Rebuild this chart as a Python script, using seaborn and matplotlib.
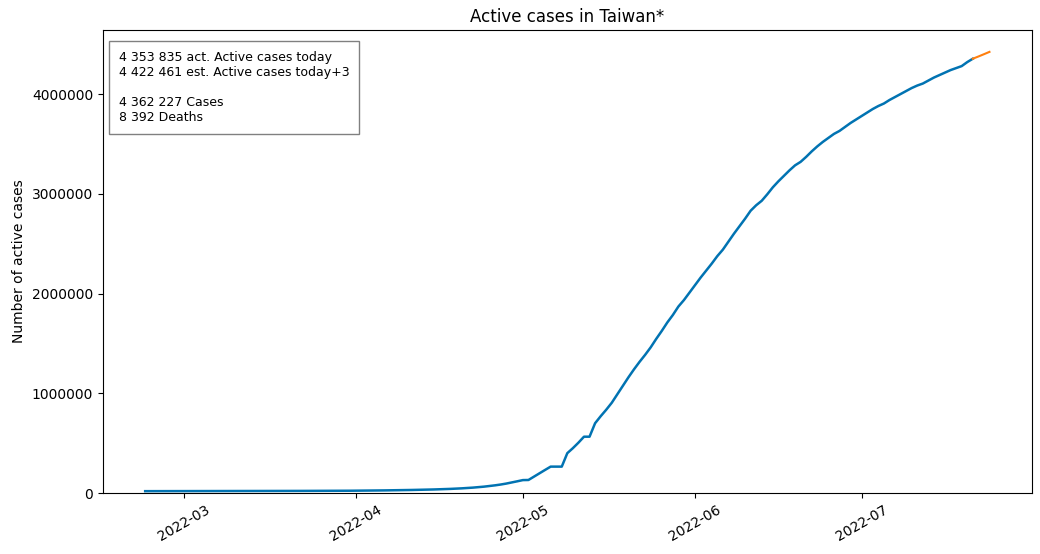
import pandas as pd
import matplotlib
matplotlib.use("Agg")
import matplotlib.pyplot as plt
import seaborn as sns

# active cases per day, 2022-02-22 .. 2022-07-21
start_date = "2022-02-22"
active_feb = [19000, 19050, 19100, 19150, 19200, 19250, 19300]
active_mar = [19400, 19500, 19600, 19700, 19800, 19900, 20000, 20100, 20200, 20300,
              20400, 20500, 20600, 20700, 20800, 20900, 21000, 21100, 21200, 21300,
              21400, 21500, 21600, 21700, 21900, 22100, 22300, 22500, 22800, 23100, 23400]
active_apr = [23800, 24300, 24800, 25400, 26000, 26700, 27400, 28200, 29100, 30000,
              31000, 32100, 33300, 34600, 36100, 37800, 39700, 41900, 44400, 47300,
              50600, 54500, 59000, 64300, 70500, 77500, 85500, 95000, 106000, 118000]
active_may = [130000, 131000, 165000, 200000, 232000, 265000, 265000, 265000, 400000, 450000,
              505000, 565000, 565000, 700000, 770000, 835000, 905000, 990000, 1075000, 1160000,
              1240000, 1315000, 1385000, 1460000, 1545000, 1625000, 1710000, 1785000, 1870000,
              1935000, 2010000]
active_jun = [2085000, 2160000, 2230000, 2300000, 2375000, 2440000, 2520000, 2600000, 2675000,
              2750000, 2830000, 2885000, 2930000, 2995000, 3065000, 3125000, 3180000, 3235000,
              3285000, 3320000, 3370000, 3425000, 3475000, 3520000, 3560000, 3600000, 3630000,
              3670000, 3710000, 3745000]
active_jul = [3780000, 3815000, 3850000, 3880000, 3905000, 3940000, 3970000, 4000000, 4030000,
              4060000, 4085000, 4105000, 4135000, 4165000, 4190000, 4215000, 4240000, 4260000,
              4280000, 4320000, 4353835]

# estimate for the next 3 days
forecast_start = "2022-07-21"
forecast_vals = [4353835, 4376000, 4399000, 4422461]

info_text = ("4 353 835 act. Active cases today\n"
             "4 422 461 est. Active cases today+3\n\n"
             "4 362 227 Cases\n"
             "8 392 Deaths")

active = active_feb + active_mar + active_apr + active_may + active_jun + active_jul
df = pd.DataFrame({"date": pd.date_range(start_date, periods=len(active), freq="D"),
                   "active": active})
df_fc = pd.DataFrame({"date": pd.date_range(forecast_start, periods=len(forecast_vals), freq="D"),
                      "active": forecast_vals})

plt.rcParams["font.family"] = ["DejaVu Sans"]
fig, ax = plt.subplots(figsize=(10.4, 5.54), dpi=100)
fig.subplots_adjust(left=0.099, right=0.992, top=0.946, bottom=0.110)

sns.lineplot(data=df, x="date", y="active", color="#0173b2", linewidth=1.8, ax=ax)
sns.lineplot(data=df_fc, x="date", y="active", color="#ff7f0e", linewidth=1.5, ax=ax)

ax.set_ylim(bottom=0)
ax.ticklabel_format(axis="y", style="plain")
ax.set_title("Active cases in Taiwan*", fontsize=12)
ax.set_xlabel("")
ax.set_ylabel("Number of active cases")
plt.setp(ax.get_xticklabels(), rotation=30)

ax.text(0.017, 0.955, info_text, transform=ax.transAxes, va="top", ha="left", fontsize=9,
        bbox=dict(facecolor="white", edgecolor="gray", pad=7))

plt.savefig("out.png", dpi=100)
plt.close()
